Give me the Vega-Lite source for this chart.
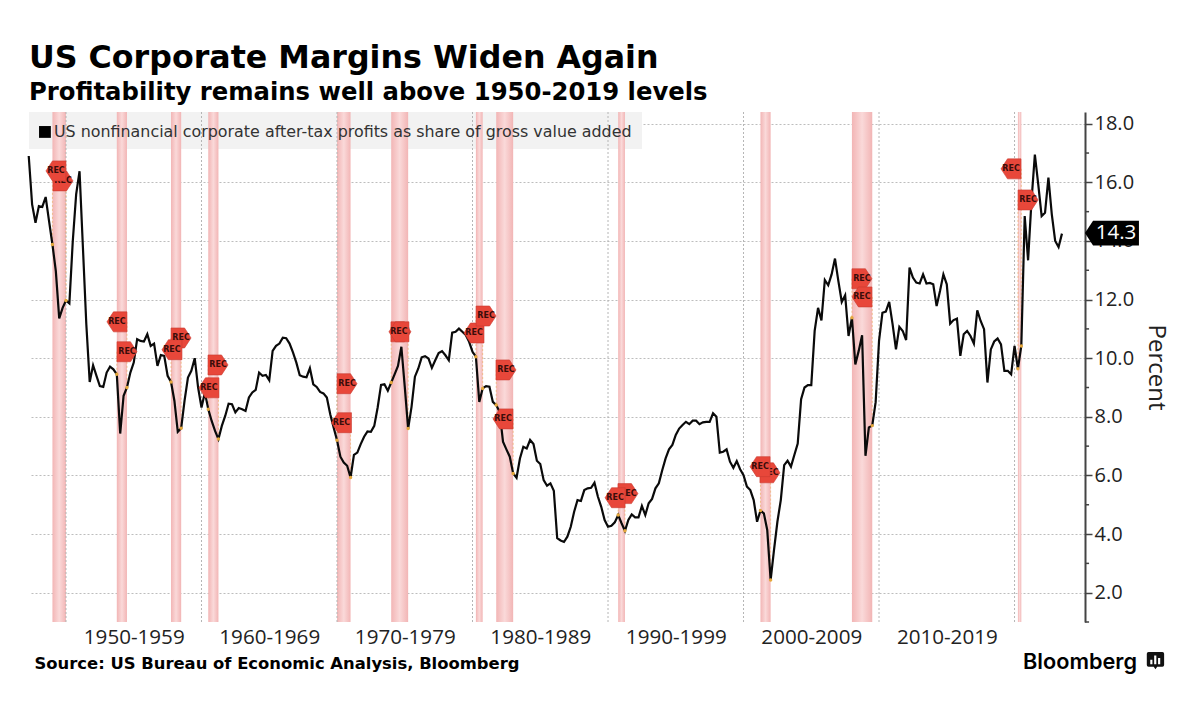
{"$schema":"https://vega.github.io/schema/vega-lite/v6.json","width":1056,"height":510,"autosize":{"type":"none"},"padding":{"left":29,"top":112,"right":115,"bottom":84},"background":"#ffffff",
"title":{"text":"US Corporate Margins Widen Again","subtitle":"Profitability remains well above 1950-2019 levels","anchor":"start","frame":"group","font":"DejaVu Sans","fontWeight":"bold","fontSize":31.7,"color":"#000000","subtitleFont":"DejaVu Sans","subtitleFontWeight":"bold","subtitleFontSize":24.3,"subtitleColor":"#000000","subtitlePadding":7,"offset":6},
"config":{"view":{"stroke":null}},
"datasets":{
"panel":[{"year":1947.27,"end":1992.51,"value":18.4,"top":17.14}],
"bands":[{"year":1949.0,"end":1950.0},{"year":1953.75,"end":1954.5},{"year":1957.75,"end":1958.5},{"year":1960.5,"end":1961.25},{"year":1970.0,"end":1971.0},{"year":1974.0,"end":1975.25},{"year":1980.25,"end":1980.75},{"year":1981.75,"end":1983.0},{"year":1990.75,"end":1991.25},{"year":2001.25,"end":2002.0},{"year":2008.0,"end":2009.5},{"year":2020.25,"end":2020.5}],
"decades":[{"year":1950},{"year":1960},{"year":1970},{"year":1980},{"year":1990},{"year":2000},{"year":2010},{"year":2020}],
"minorTicks":[{"year":2025.2,"end":2025.5,"value":1},{"year":2025.2,"end":2025.5,"value":3},{"year":2025.2,"end":2025.5,"value":5},{"year":2025.2,"end":2025.5,"value":7},{"year":2025.2,"end":2025.5,"value":9},{"year":2025.2,"end":2025.5,"value":11},{"year":2025.2,"end":2025.5,"value":13},{"year":2025.2,"end":2025.5,"value":15},{"year":2025.2,"end":2025.5,"value":17}],
"flags":[
{"label":"REC","dir":"L","tier":1,"year":1949.26,"value":16.39,"edge":1950.0,"target":11.97},
{"label":"REC","dir":"R","tier":0,"year":1949.78,"value":16.05,"edge":1949.0,"target":13.88},
{"label":"REC","dir":"L","tier":1,"year":1953.76,"value":11.24,"edge":1954.5,"target":9.0},
{"label":"REC","dir":"R","tier":1,"year":1954.5,"value":10.22,"edge":1953.75,"target":9.45},
{"label":"REC","dir":"R","tier":1,"year":1958.49,"value":10.69,"edge":1957.75,"target":9.19},
{"label":"REC","dir":"L","tier":1,"year":1957.82,"value":10.29,"edge":1958.5,"target":7.61},
{"label":"REC","dir":"R","tier":1,"year":1961.22,"value":9.77,"edge":1960.5,"target":8.26},
{"label":"REC","dir":"L","tier":1,"year":1960.55,"value":8.99,"edge":1961.25,"target":7.24},
{"label":"REC","dir":"R","tier":1,"year":1970.74,"value":9.13,"edge":1970.0,"target":7.2},
{"label":"REC","dir":"L","tier":1,"year":1970.33,"value":7.8,"edge":1971.0,"target":5.93},
{"label":"REC","dir":"R","tier":0,"year":1974.72,"value":10.9,"edge":1974.0,"target":9.17},
{"label":"REC","dir":"L","tier":1,"year":1974.57,"value":10.9,"edge":1975.25,"target":7.6},
{"label":"REC","dir":"L","tier":1,"year":1980.11,"value":10.86,"edge":1980.75,"target":8.97},
{"label":"REC","dir":"R","tier":1,"year":1981.0,"value":11.44,"edge":1980.25,"target":10.05},
{"label":"REC","dir":"R","tier":1,"year":1982.47,"value":9.6,"edge":1981.75,"target":8.4},
{"label":"REC","dir":"L","tier":1,"year":1982.25,"value":7.93,"edge":1983.0,"target":6.07},
{"label":"REC","dir":"R","tier":0,"year":1991.47,"value":5.38,"edge":1990.75,"target":4.65},
{"label":"REC","dir":"L","tier":1,"year":1990.52,"value":5.24,"edge":1991.25,"target":4.11},
{"label":"REC","dir":"R","tier":0,"year":2001.95,"value":6.09,"edge":2001.25,"target":4.8},
{"label":"REC","dir":"L","tier":1,"year":2001.22,"value":6.3,"edge":2002.0,"target":2.43},
{"label":"REC","dir":"R","tier":1,"year":2008.74,"value":12.71,"edge":2008.0,"target":11.38},
{"label":"REC","dir":"L","tier":1,"year":2008.74,"value":12.09,"edge":2009.5,"target":7.7},
{"label":"REC","dir":"L","tier":1,"year":2019.74,"value":16.46,"edge":2020.5,"target":10.42},
{"label":"REC","dir":"R","tier":1,"year":2021.0,"value":15.4,"edge":2020.25,"target":9.64}],
"last":[{"year":2027.19,"value":14.27,"label":"14.3"}],
"brand":[{"year":2024.83,"value":-0.59,"label":"Bloomberg"}],
"brandIcon":[{"year":2030.4,"value":-0.32}],
"profit":[
{"year":1947.25,"value":16.9},{"year":1947.5,"value":15.25},{"year":1947.75,"value":14.62},{"year":1948.0,"value":15.19},{"year":1948.25,"value":15.16},{"year":1948.5,"value":15.5},{"year":1948.75,"value":14.68},{"year":1949.0,"value":13.88},{"year":1949.25,"value":12.97},{"year":1949.5,"value":11.36},{"year":1949.75,"value":11.72},{"year":1950.0,"value":11.97},{"year":1950.25,"value":11.87},{"year":1950.5,"value":13.99},{"year":1950.75,"value":15.59},{"year":1951.0,"value":16.38},{"year":1951.25,"value":13.77},{"year":1951.5,"value":11.16},{"year":1951.75,"value":9.19},{"year":1952.0,"value":9.76},{"year":1952.25,"value":9.4},{"year":1952.5,"value":9.05},{"year":1952.75,"value":9.02},{"year":1953.0,"value":9.51},{"year":1953.25,"value":9.71},{"year":1953.5,"value":9.62},{"year":1953.75,"value":9.45},{"year":1954.0,"value":7.43},{"year":1954.25,"value":8.72},{"year":1954.5,"value":9.0},{"year":1954.75,"value":9.51},{"year":1955.0,"value":9.85},{"year":1955.25,"value":10.65},{"year":1955.5,"value":10.59},{"year":1955.75,"value":10.57},{"year":1956.0,"value":10.82},{"year":1956.25,"value":10.42},{"year":1956.5,"value":10.5},{"year":1956.75,"value":9.74},{"year":1957.0,"value":10.11},{"year":1957.25,"value":10.08},{"year":1957.5,"value":9.4},{"year":1957.75,"value":9.19},{"year":1958.0,"value":8.55},{"year":1958.25,"value":7.49},{"year":1958.5,"value":7.61},{"year":1958.75,"value":8.55},{"year":1959.0,"value":9.34},{"year":1959.25,"value":9.57},{"year":1959.5,"value":10.0},{"year":1959.75,"value":9.0},{"year":1960.0,"value":8.32},{"year":1960.25,"value":8.83},{"year":1960.5,"value":8.26},{"year":1960.75,"value":7.86},{"year":1961.0,"value":7.52},{"year":1961.25,"value":7.24},{"year":1961.5,"value":7.69},{"year":1961.75,"value":8.03},{"year":1962.0,"value":8.45},{"year":1962.25,"value":8.43},{"year":1962.5,"value":8.15},{"year":1962.75,"value":8.3},{"year":1963.0,"value":8.26},{"year":1963.25,"value":8.2},{"year":1963.5,"value":8.66},{"year":1963.75,"value":8.83},{"year":1964.0,"value":8.92},{"year":1964.25,"value":9.51},{"year":1964.5,"value":9.4},{"year":1964.75,"value":9.43},{"year":1965.0,"value":9.25},{"year":1965.25,"value":10.25},{"year":1965.5,"value":10.42},{"year":1965.75,"value":10.5},{"year":1966.0,"value":10.7},{"year":1966.25,"value":10.68},{"year":1966.5,"value":10.5},{"year":1966.75,"value":10.2},{"year":1967.0,"value":9.85},{"year":1967.25,"value":9.42},{"year":1967.5,"value":9.37},{"year":1967.75,"value":9.35},{"year":1968.0,"value":9.66},{"year":1968.25,"value":9.11},{"year":1968.5,"value":9.02},{"year":1968.75,"value":8.85},{"year":1969.0,"value":8.8},{"year":1969.25,"value":8.66},{"year":1969.5,"value":8.09},{"year":1969.75,"value":7.64},{"year":1970.0,"value":7.2},{"year":1970.25,"value":6.64},{"year":1970.5,"value":6.44},{"year":1970.75,"value":6.33},{"year":1971.0,"value":5.93},{"year":1971.25,"value":6.7},{"year":1971.5,"value":6.78},{"year":1971.75,"value":7.07},{"year":1972.0,"value":7.32},{"year":1972.25,"value":7.5},{"year":1972.5,"value":7.49},{"year":1972.75,"value":7.69},{"year":1973.0,"value":8.32},{"year":1973.25,"value":9.09},{"year":1973.5,"value":9.11},{"year":1973.75,"value":8.89},{"year":1974.0,"value":9.17},{"year":1974.25,"value":9.45},{"year":1974.5,"value":9.74},{"year":1974.75,"value":10.39},{"year":1975.0,"value":9.03},{"year":1975.25,"value":7.6},{"year":1975.5,"value":8.34},{"year":1975.75,"value":9.37},{"year":1976.0,"value":9.65},{"year":1976.25,"value":10.03},{"year":1976.5,"value":10.07},{"year":1976.75,"value":9.99},{"year":1977.0,"value":9.67},{"year":1977.25,"value":9.93},{"year":1977.5,"value":10.18},{"year":1977.75,"value":10.24},{"year":1978.0,"value":10.1},{"year":1978.25,"value":9.93},{"year":1978.5,"value":10.87},{"year":1978.75,"value":10.9},{"year":1979.0,"value":11.01},{"year":1979.25,"value":10.9},{"year":1979.5,"value":10.79},{"year":1979.75,"value":10.56},{"year":1980.0,"value":10.22},{"year":1980.25,"value":10.05},{"year":1980.5,"value":8.51},{"year":1980.75,"value":8.97},{"year":1981.0,"value":9.05},{"year":1981.25,"value":9.03},{"year":1981.5,"value":8.51},{"year":1981.75,"value":8.4},{"year":1982.0,"value":8.17},{"year":1982.25,"value":7.15},{"year":1982.5,"value":6.89},{"year":1982.75,"value":6.64},{"year":1983.0,"value":6.07},{"year":1983.25,"value":5.92},{"year":1983.5,"value":6.58},{"year":1983.75,"value":6.98},{"year":1984.0,"value":6.92},{"year":1984.25,"value":7.21},{"year":1984.5,"value":7.07},{"year":1984.75,"value":6.5},{"year":1985.0,"value":6.39},{"year":1985.25,"value":5.84},{"year":1985.5,"value":5.65},{"year":1985.75,"value":5.73},{"year":1986.0,"value":5.48},{"year":1986.25,"value":3.86},{"year":1986.5,"value":3.78},{"year":1986.75,"value":3.73},{"year":1987.0,"value":3.91},{"year":1987.25,"value":4.25},{"year":1987.5,"value":4.76},{"year":1987.75,"value":5.16},{"year":1988.0,"value":5.13},{"year":1988.25,"value":5.5},{"year":1988.5,"value":5.56},{"year":1988.75,"value":5.58},{"year":1989.0,"value":5.75},{"year":1989.25,"value":5.28},{"year":1989.5,"value":4.93},{"year":1989.75,"value":4.48},{"year":1990.0,"value":4.25},{"year":1990.25,"value":4.28},{"year":1990.5,"value":4.4},{"year":1990.75,"value":4.65},{"year":1991.0,"value":4.37},{"year":1991.25,"value":4.11},{"year":1991.5,"value":4.48},{"year":1991.75,"value":4.67},{"year":1992.0,"value":4.57},{"year":1992.25,"value":4.57},{"year":1992.5,"value":4.96},{"year":1992.75,"value":4.65},{"year":1993.0,"value":5.05},{"year":1993.25,"value":5.2},{"year":1993.5,"value":5.56},{"year":1993.75,"value":5.73},{"year":1994.0,"value":6.18},{"year":1994.25,"value":6.58},{"year":1994.5,"value":6.89},{"year":1994.75,"value":7.04},{"year":1995.0,"value":7.38},{"year":1995.25,"value":7.6},{"year":1995.5,"value":7.72},{"year":1995.75,"value":7.83},{"year":1996.0,"value":7.75},{"year":1996.25,"value":7.87},{"year":1996.5,"value":7.87},{"year":1996.75,"value":7.75},{"year":1997.0,"value":7.81},{"year":1997.25,"value":7.83},{"year":1997.5,"value":7.83},{"year":1997.75,"value":8.12},{"year":1998.0,"value":8.0},{"year":1998.25,"value":6.78},{"year":1998.5,"value":6.81},{"year":1998.75,"value":6.89},{"year":1999.0,"value":6.47},{"year":1999.25,"value":6.26},{"year":1999.5,"value":6.49},{"year":1999.75,"value":6.21},{"year":2000.0,"value":6.01},{"year":2000.25,"value":5.62},{"year":2000.5,"value":5.5},{"year":2000.75,"value":5.16},{"year":2001.0,"value":4.42},{"year":2001.25,"value":4.8},{"year":2001.5,"value":4.71},{"year":2001.75,"value":4.14},{"year":2002.0,"value":2.43},{"year":2002.25,"value":3.46},{"year":2002.5,"value":4.42},{"year":2002.75,"value":5.16},{"year":2003.0,"value":6.35},{"year":2003.25,"value":6.5},{"year":2003.5,"value":6.3},{"year":2003.75,"value":6.7},{"year":2004.0,"value":7.09},{"year":2004.25,"value":8.6},{"year":2004.5,"value":9.0},{"year":2004.75,"value":9.08},{"year":2005.0,"value":9.08},{"year":2005.25,"value":10.93},{"year":2005.5,"value":11.72},{"year":2005.75,"value":11.29},{"year":2006.0,"value":12.67},{"year":2006.25,"value":12.49},{"year":2006.5,"value":12.86},{"year":2006.75,"value":13.4},{"year":2007.0,"value":12.63},{"year":2007.25,"value":11.92},{"year":2007.5,"value":12.15},{"year":2007.75,"value":10.76},{"year":2008.0,"value":11.38},{"year":2008.25,"value":9.79},{"year":2008.5,"value":10.25},{"year":2008.75,"value":10.78},{"year":2009.0,"value":6.67},{"year":2009.25,"value":7.64},{"year":2009.5,"value":7.7},{"year":2009.75,"value":8.5},{"year":2010.0,"value":10.59},{"year":2010.25,"value":11.55},{"year":2010.5,"value":11.59},{"year":2010.75,"value":11.92},{"year":2011.0,"value":11.16},{"year":2011.25,"value":10.3},{"year":2011.5,"value":11.07},{"year":2011.75,"value":10.93},{"year":2012.0,"value":10.62},{"year":2012.25,"value":13.09},{"year":2012.5,"value":12.75},{"year":2012.75,"value":12.58},{"year":2013.0,"value":12.55},{"year":2013.25,"value":12.86},{"year":2013.5,"value":12.55},{"year":2013.75,"value":12.57},{"year":2014.0,"value":12.52},{"year":2014.25,"value":11.78},{"year":2014.5,"value":12.29},{"year":2014.75,"value":12.86},{"year":2015.0,"value":12.52},{"year":2015.25,"value":11.18},{"year":2015.5,"value":11.3},{"year":2015.75,"value":11.35},{"year":2016.0,"value":10.08},{"year":2016.25,"value":10.82},{"year":2016.5,"value":10.93},{"year":2016.75,"value":10.76},{"year":2017.0,"value":10.5},{"year":2017.25,"value":11.63},{"year":2017.5,"value":11.27},{"year":2017.75,"value":10.99},{"year":2018.0,"value":9.17},{"year":2018.25,"value":10.3},{"year":2018.5,"value":10.57},{"year":2018.75,"value":10.67},{"year":2019.0,"value":10.47},{"year":2019.25,"value":9.57},{"year":2019.5,"value":9.57},{"year":2019.75,"value":9.45},{"year":2020.0,"value":10.42},{"year":2020.25,"value":9.64},{"year":2020.5,"value":10.42},{"year":2020.75,"value":14.85},{"year":2021.0,"value":13.34},{"year":2021.25,"value":15.36},{"year":2021.5,"value":16.95},{"year":2021.75,"value":15.93},{"year":2022.0,"value":14.85},{"year":2022.25,"value":14.96},{"year":2022.5,"value":16.16},{"year":2022.75,"value":14.91},{"year":2023.0,"value":14.0},{"year":2023.25,"value":13.79},{"year":2023.5,"value":14.25}]
},
"layer":[
{"data":{"name":"panel"},"mark":{"type":"rect","color":"#f2f2f2"},"encoding":{"x":{"field":"year","type":"quantitative","scale":{"domain":[1947.27,2025.2],"nice":false,"zero":false}},"x2":{"field":"end"},"y":{"field":"value","type":"quantitative","scale":{"domain":[1,18.4],"nice":false,"zero":false}},"y2":{"field":"top"}}},
{"data":{"name":"bands"},"mark":{"type":"rect","color":{"gradient":"linear","x1":0,"y1":0,"x2":1,"y2":0,"stops":[{"offset":0,"color":"#f2b5b5"},{"offset":0.5,"color":"#fad9d9"},{"offset":1,"color":"#f2b5b5"}]}},"encoding":{"x":{"field":"year","type":"quantitative","scale":{"domain":[1947.27,2025.2],"nice":false,"zero":false},"axis":{"title":"Source: US Bureau of Economic Analysis, Bloomberg","titleFont":"DejaVu Sans","titleFontWeight":"bold","titleFontSize":16.4,"titleColor":"#000000","titleAnchor":"start","titleAlign":"left","titleBaseline":"alphabetic","titleX":5,"titleY":46,"values":[1955,1965,1975,1985,1995,2005,2015],"labelExpr":"(floor(datum.value/10)*10)+'-'+(floor(datum.value/10)*10+9)","labelFont":"Open Sans","labelFontSize":20.6,"labelColor":"#222222","labelPadding":5,"labelOverlap":false,"labelFlush":false,"domain":false,"ticks":false,"grid":false}},"x2":{"field":"end"}}},
{"data":{"name":"decades"},"mark":{"type":"rule","color":"#b5b5b5","strokeWidth":1,"strokeDash":[2,2]},"encoding":{"x":{"field":"year","type":"quantitative","scale":{"domain":[1947.27,2025.2],"nice":false,"zero":false}}}},
{"data":{"name":"minorTicks"},"mark":{"type":"rule","color":"#444444","strokeWidth":1.5,"clip":false},"encoding":{"x":{"field":"year","type":"quantitative","scale":{"domain":[1947.27,2025.2],"nice":false,"zero":false}},"x2":{"field":"end"},"y":{"field":"value","type":"quantitative","scale":{"domain":[1,18.4],"nice":false,"zero":false}}}},
{"data":{"name":"flags"},"mark":{"type":"rule","color":"#eba85a","strokeWidth":1,"strokeDash":[2,2],"opacity":0.6},"encoding":{"x":{"field":"edge","type":"quantitative","scale":{"domain":[1947.27,2025.2],"nice":false,"zero":false}},"y":{"field":"value","type":"quantitative","scale":{"domain":[1,18.4],"nice":false,"zero":false}},"y2":{"field":"target"}}},
{"data":{"name":"profit"},"mark":{"type":"line","strokeWidth":2.2,"interpolate":"linear"},"encoding":{"x":{"field":"year","type":"quantitative","scale":{"domain":[1947.27,2025.2],"nice":false,"zero":false}},"y":{"field":"value","type":"quantitative","scale":{"domain":[1,18.4],"nice":false,"zero":false},"axis":{"orient":"right","title":"Percent","titleFont":"Open Sans","titleFontWeight":"normal","titleFontSize":24,"titleColor":"#222222","titleAngle":90,"titlePadding":10,"values":[2,4,6,8,10,12,14,16,18],"format":".1f","labelFont":"Open Sans","labelFontSize":20,"labelColor":"#222222","labelPadding":2,"labelOverlap":false,"labelFlush":false,"domain":true,"domainColor":"#444444","domainWidth":2,"tickColor":"#444444","tickWidth":1.5,"tickSize":7,"grid":true,"gridColor":"#bdbdbd","gridWidth":1,"gridDash":[2,2]}},"color":{"datum":"US nonfinancial corporate after-tax profits as share of gross value added","type":"nominal","scale":{"range":["#0a0a0a"]},"legend":{"orient":"none","legendX":-2,"legendY":2,"title":null,"padding":10,"symbolType":"square","symbolSize":140,"symbolFillColor":"#000000","symbolStrokeColor":"#000000","symbolStrokeWidth":0,"labelFont":"DejaVu Sans","labelFontSize":15.9,"labelColor":"#333333","labelLimit":700,"labelOffset":1}}}},
{"data":{"name":"flags"},"mark":{"type":"point","filled":true,"color":"#e5a83b","size":12,"opacity":1},"encoding":{"x":{"field":"edge","type":"quantitative","scale":{"domain":[1947.27,2025.2],"nice":false,"zero":false}},"y":{"field":"target","type":"quantitative","scale":{"domain":[1,18.4],"nice":false,"zero":false}}}},
{"data":{"name":"flags"},"transform":[{"filter":"datum.tier==0"}],"mark":{"type":"point","filled":true,"opacity":1,"color":"#e8473a","stroke":"#c93b30","strokeWidth":0.6,"size":400},"encoding":{"x":{"field":"year","type":"quantitative","scale":{"domain":[1947.27,2025.2],"nice":false,"zero":false}},"y":{"field":"value","type":"quantitative","scale":{"domain":[1,18.4],"nice":false,"zero":false}},"shape":{"field":"dir","type":"nominal","scale":{"domain":["L","R"],"range":["M-1,0L-0.35,-1L1,-1L1,1L-0.35,1Z","M1,0L0.35,-1L-1,-1L-1,1L0.35,1Z"]},"legend":null}}},
{"data":{"name":"flags"},"transform":[{"filter":"datum.tier==0"}],"mark":{"type":"text","font":"DejaVu Sans","fontWeight":"bold","fontSize":8,"color":"#3a0d0a"},"encoding":{"x":{"field":"year","type":"quantitative","scale":{"domain":[1947.27,2025.2],"nice":false,"zero":false}},"y":{"field":"value","type":"quantitative","scale":{"domain":[1,18.4],"nice":false,"zero":false}},"text":{"field":"label"}}},
{"data":{"name":"flags"},"transform":[{"filter":"datum.tier==1"}],"mark":{"type":"point","filled":true,"opacity":1,"color":"#e8473a","stroke":"#c93b30","strokeWidth":0.6,"size":400},"encoding":{"x":{"field":"year","type":"quantitative","scale":{"domain":[1947.27,2025.2],"nice":false,"zero":false}},"y":{"field":"value","type":"quantitative","scale":{"domain":[1,18.4],"nice":false,"zero":false}},"shape":{"field":"dir","type":"nominal","scale":{"domain":["L","R"],"range":["M-1,0L-0.35,-1L1,-1L1,1L-0.35,1Z","M1,0L0.35,-1L-1,-1L-1,1L0.35,1Z"]},"legend":null}}},
{"data":{"name":"flags"},"transform":[{"filter":"datum.tier==1"}],"mark":{"type":"text","font":"DejaVu Sans","fontWeight":"bold","fontSize":8,"color":"#3a0d0a"},"encoding":{"x":{"field":"year","type":"quantitative","scale":{"domain":[1947.27,2025.2],"nice":false,"zero":false}},"y":{"field":"value","type":"quantitative","scale":{"domain":[1,18.4],"nice":false,"zero":false}},"text":{"field":"label"}}},
{"data":{"name":"last"},"mark":{"type":"point","filled":true,"opacity":1,"color":"#000000","strokeWidth":0,"size":2916,"shape":"M-1,0L-0.7,-0.46L1,-0.46L1,0.46L-0.7,0.46Z"},"encoding":{"x":{"field":"year","type":"quantitative","scale":{"domain":[1947.27,2025.2],"nice":false,"zero":false}},"y":{"field":"value","type":"quantitative","scale":{"domain":[1,18.4],"nice":false,"zero":false}}}},
{"data":{"name":"last"},"mark":{"type":"text","font":"Open Sans","fontSize":20.5,"color":"#ffffff","dx":4},"encoding":{"x":{"field":"year","type":"quantitative","scale":{"domain":[1947.27,2025.2],"nice":false,"zero":false}},"y":{"field":"value","type":"quantitative","scale":{"domain":[1,18.4],"nice":false,"zero":false}},"text":{"field":"label"}}},
{"data":{"name":"brand"},"mark":{"type":"text","font":"Inter","fontWeight":600,"fontSize":21.7,"color":"#000000","baseline":"alphabetic","align":"center"},"encoding":{"x":{"field":"year","type":"quantitative","scale":{"domain":[1947.27,2025.2],"nice":false,"zero":false}},"y":{"field":"value","type":"quantitative","scale":{"domain":[1,18.4],"nice":false,"zero":false}},"text":{"field":"label"}}},
{"data":{"name":"brandIcon"},"mark":{"type":"point","filled":true,"opacity":1,"color":"#111111","strokeWidth":0,"size":300,"shape":"M-0.8,-1L0.8,-1Q1,-1 1,-0.8L1,0.5Q1,0.7 0.8,0.7L0.2,0.7L0,1L-0.2,0.7L-0.8,0.7Q-1,0.7 -1,0.5L-1,-0.8Q-1,-1 -0.8,-1ZM-0.6,0.4L-0.35,0.4L-0.35,-0.1L-0.6,-0.1ZM-0.15,0.4L0.1,0.4L0.1,-0.6L-0.15,-0.6ZM0.3,0.4L0.55,0.4L0.55,-0.3L0.3,-0.3Z"},"encoding":{"x":{"field":"year","type":"quantitative","scale":{"domain":[1947.27,2025.2],"nice":false,"zero":false}},"y":{"field":"value","type":"quantitative","scale":{"domain":[1,18.4],"nice":false,"zero":false}}}}
]}
